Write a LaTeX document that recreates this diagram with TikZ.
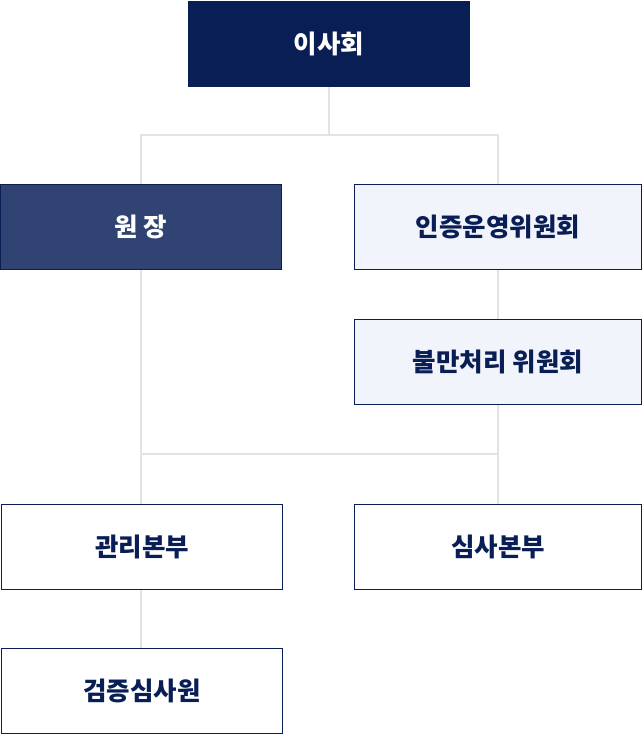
\documentclass[tikz,border=0pt]{standalone}
\usepackage{fontspec}
\setmainfont{Noto Sans CJK KR}
\usetikzlibrary{backgrounds}
\definecolor{navy}{RGB}{9,30,84}
\definecolor{midnavy}{RGB}{48,67,114}
\definecolor{paleblue}{RGB}{241,244,250}
\definecolor{linegray}{RGB}{227,227,227}
\begin{document}
\begin{tikzpicture}[x=1pt,y=-1pt,
  box/.style={rectangle,minimum height=85pt,inner sep=0pt,outer sep=0pt,
    font=\fontsize{25.5}{25.5}\selectfont\bfseries},
  darkbox/.style={box,fill=navy,text=white},
  midbox/.style={box,fill=midnavy,draw=navy,line width=1pt,text=white},
  palebox/.style={box,fill=paleblue,draw=navy,line width=1pt,text=navy},
  whitebox/.style={box,fill=white,draw=navy,line width=1pt,text=navy},
  conn/.style={draw=linegray,line width=2pt}]
\useasboundingbox (0,0) rectangle (643,735);
\node[darkbox,minimum width=282pt,minimum height=86pt] (board) at (329,44) {이사회};
\node[midbox,minimum width=281pt] (wonjang) at (141,227) {원 장};
\node[palebox,minimum width=287pt] (cert) at (498,227) {인증운영위원회};
\node[palebox,minimum width=287pt] (complaint) at (498,362) {불만처리 위원회};
\node[whitebox,minimum width=281pt] (mgmt) at (142,547) {관리본부};
\node[whitebox,minimum width=287pt] (audit) at (498,547) {심사본부};
\node[whitebox,minimum width=281pt] (verif) at (142,691) {검증심사원};
\coordinate (b1) at (329,135.5);
\coordinate (b2) at (0,453.5);
\begin{pgfonlayer}{background}
\draw[conn] (board.south) -- (b1);
\draw[conn] (wonjang.north) |- (b1) -| (cert.north);
\draw[conn] (cert.south) -- (complaint.north);
\draw[conn] (wonjang.south) -- (wonjang.south |- mgmt.north);
\draw[conn] (complaint.south) -- (audit.north);
\draw[conn] (wonjang |- b2) -- (complaint |- b2);
\draw[conn] (mgmt.south -| wonjang) -- (verif.north -| wonjang);
\end{pgfonlayer}
\end{tikzpicture}
\end{document}
